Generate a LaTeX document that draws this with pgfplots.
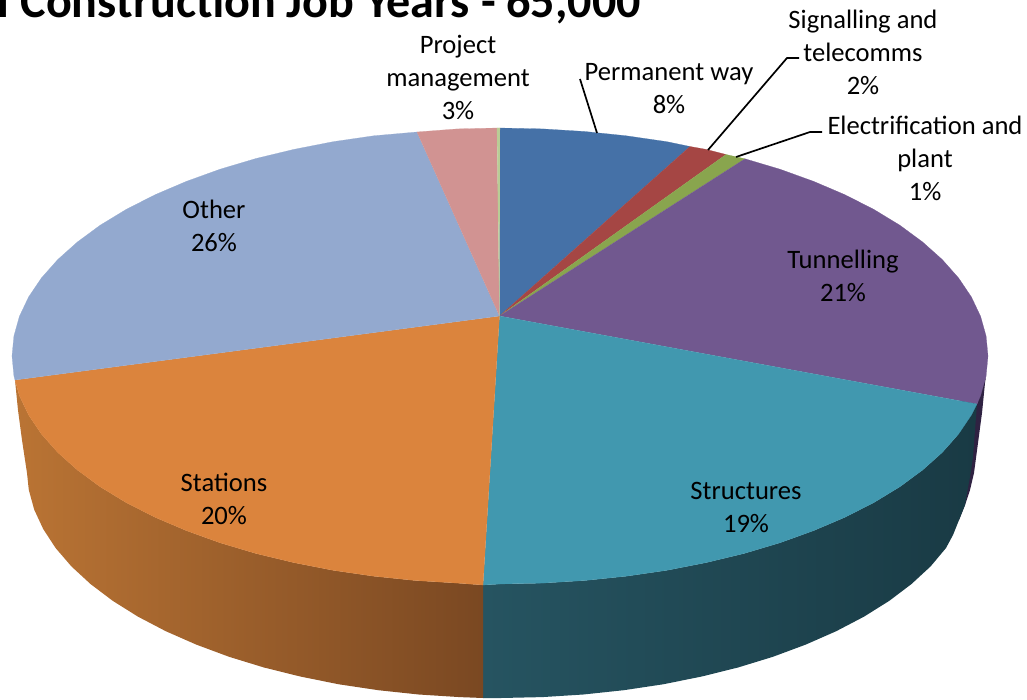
\documentclass[border=0pt]{standalone}
\usepackage{fontspec}
\setmainfont{Carlito}
\usepackage{pgfplots}
\pgfplotsset{compat=1.18}
\definecolor{cblue}{HTML}{4571A7}
\definecolor{cred}{HTML}{A54644}
\definecolor{cgreen}{HTML}{89A54E}
\definecolor{cpurple}{HTML}{71588F}
\definecolor{cteal}{HTML}{4198AF}
\definecolor{corange}{HTML}{DB843D}
\definecolor{clight}{HTML}{93A9CF}
\definecolor{cpink}{HTML}{D19392}
\definecolor{csliver}{HTML}{B9CD96}
\definecolor{spurple}{HTML}{2F2242}
\tikzset{lab/.style={align=center,font=\fontsize{26.6}{33}\selectfont,inner sep=0pt,text=black}}
\begin{document}
\begin{tikzpicture}
\path[use as bounding box,clip] (0,0) rectangle (1027pt,700pt);
\begin{axis}[at={(0,0)},anchor=south west,scale only axis,width=1027pt,height=700pt,
  xmin=0,xmax=1027,ymin=0,ymax=700,y dir=reverse,hide axis,clip=false]
% sides
\addplot[fill=spurple,draw=none] coordinates {(986.1,375.9)(985,383)(982,413)(978,443)(974,473)(970,490)(965,505)(959,520)(950,520)(960,400)(977,404)};
\addplot[left color={rgb,255:red,38;green,84;blue,97},right color={rgb,255:red,25;green,58;blue,68},draw=none] coordinates {(977,404)(971.4,415)(958.6,434)(942.3,452.4)(922.6,470)(899.8,486.8)(873.8,502.6)(845.1,517.2)(813.7,530.6)(779.9,542.8)(744,553.5)(706.2,562.6)(666.9,570.3)(626.3,576.2)(584.7,580.5)(542.6,583.1)(500,584)(483,585)(483,698)(501,698)(542.3,697.1)(583.3,694.5)(623.7,690.2)(663.1,684.3)(701.3,676.6)(738,667.5)(772.9,656.8)(805.7,644.6)(836.2,631.2)(864.1,616.6)(889.3,600.8)(911.5,584)(930.6,566.4)(946,548)(953,535)(959,520)(965,505)(967,493)(970,477)(973,457)(975,430)};
\addplot[left color={rgb,255:red,186;green,116;blue,52},middle color={rgb,255:red,166;green,101;blue,46},right color={rgb,255:red,122;green,72;blue,34},draw=none] coordinates {(483,585)(457.4,583.1)(415.3,580.5)(373.7,576.2)(333.1,570.3)(293.8,562.6)(256,553.5)(220.1,542.8)(186.3,530.6)(154.9,517.2)(126.2,502.6)(100.2,486.8)(77.4,470)(57.7,452.4)(41.4,434)(28.6,415)(19.4,395.6)(15,380)(18,410)(22,440)(27,473)(28.8,489.9)(34.2,509.6)(43.2,529)(55.6,548)(71.4,566.4)(90.5,584)(112.7,600.8)(137.9,616.6)(165.8,631.2)(196.3,644.6)(229.1,656.8)(264,667.5)(300.7,676.6)(338.9,684.3)(378.3,690.2)(418.7,694.5)(459.7,697.1)(483,698)};
% top
\addplot[fill=cblue,draw=cblue,line width=0.2pt] coordinates {(499.5,316)(500,128)(542.6,128.9)(584.7,131.5)(626.3,135.8)(666.9,141.7)(690,146.5)};
\addplot[fill=cred,draw=cred,line width=0.2pt] coordinates {(499.5,316)(690,146.5)(706.2,149.4)(726,154.5)};
\addplot[fill=cgreen,draw=cgreen,line width=0.2pt] coordinates {(499.5,316)(726,154.5)(745,158.8)};
\addplot[fill=cpurple,draw=cpurple,line width=0.2pt] coordinates {(499.5,316)(745,158.8)(779.9,169.2)(813.7,181.4)(845.1,194.8)(873.8,209.4)(899.8,225.2)(922.6,242)(942.3,259.6)(958.6,278)(971.4,297)(980.6,316.4)(986.1,336.1)(988,356)(986.1,375.9)(980.6,395.6)(977,404)};
\addplot[fill=cteal,draw=cteal,line width=0.2pt] coordinates {(499.5,316)(977,404)(971.4,415)(958.6,434)(942.3,452.4)(922.6,470)(899.8,486.8)(873.8,502.6)(845.1,517.2)(813.7,530.6)(779.9,542.8)(744,553.5)(706.2,562.6)(666.9,570.3)(626.3,576.2)(584.7,580.5)(542.6,583.1)(500,584)(483,585)};
\addplot[fill=corange,draw=corange,line width=0.2pt] coordinates {(499.5,316)(483,585)(457.4,583.1)(415.3,580.5)(373.7,576.2)(333.1,570.3)(293.8,562.6)(256,553.5)(220.1,542.8)(186.3,530.6)(154.9,517.2)(126.2,502.6)(100.2,486.8)(77.4,470)(57.7,452.4)(41.4,434)(28.6,415)(19.4,395.6)(15,380)};
\addplot[fill=clight,draw=clight,line width=0.2pt] coordinates {(499.5,316)(15,380)(13.9,375.9)(12,356)(13.9,336.1)(19.4,316.4)(28.6,297)(41.4,278)(57.7,259.6)(77.4,242)(100.2,225.2)(126.2,209.4)(154.9,194.8)(186.3,181.4)(220.1,169.2)(256,158.5)(293.8,149.4)(333.1,141.7)(373.7,135.8)(417,132)};
\addplot[fill=cpink,draw=cpink,line width=0.2pt] coordinates {(499.5,316)(417,132)(457.4,128.9)(497,128)};
\addplot[fill=csliver,draw=csliver,line width=0.2pt] coordinates {(499.5,316)(497,128)(500,128)};
% leaders
\addplot[black,line width=1.7pt] coordinates {(597,133)(580,79)};
\addplot[black,line width=1.7pt] coordinates {(708,150)(787,58)(799,58)};
\addplot[black,line width=1.7pt] coordinates {(736,157)(810,132)(822,132)};
% labels
\node[lab] at (axis cs:458,77) {Project\\management\\3\%};
\node[lab] at (axis cs:669,88.5) {Permanent way\\8\%};
\node[lab] at (axis cs:863,52.5) {Signalling and\\telecomms\\2\%};
\node[lab] at (axis cs:925,158.5) {Electrification and\\plant\\1\%};
\node[lab] at (axis cs:843,276) {Tunnelling\\21\%};
\node[lab] at (axis cs:214,226) {Other\\26\%};
\node[lab] at (axis cs:746,507) {Structures\\19\%};
\node[lab] at (axis cs:224,499) {Stations\\20\%};
\node[anchor=base east,inner sep=0pt,font=\fontsize{48.1}{52}\selectfont\bfseries] at (axis cs:641,18) {Total Construction Job Years - 65,000};
\end{axis}
\end{tikzpicture}
\end{document}
